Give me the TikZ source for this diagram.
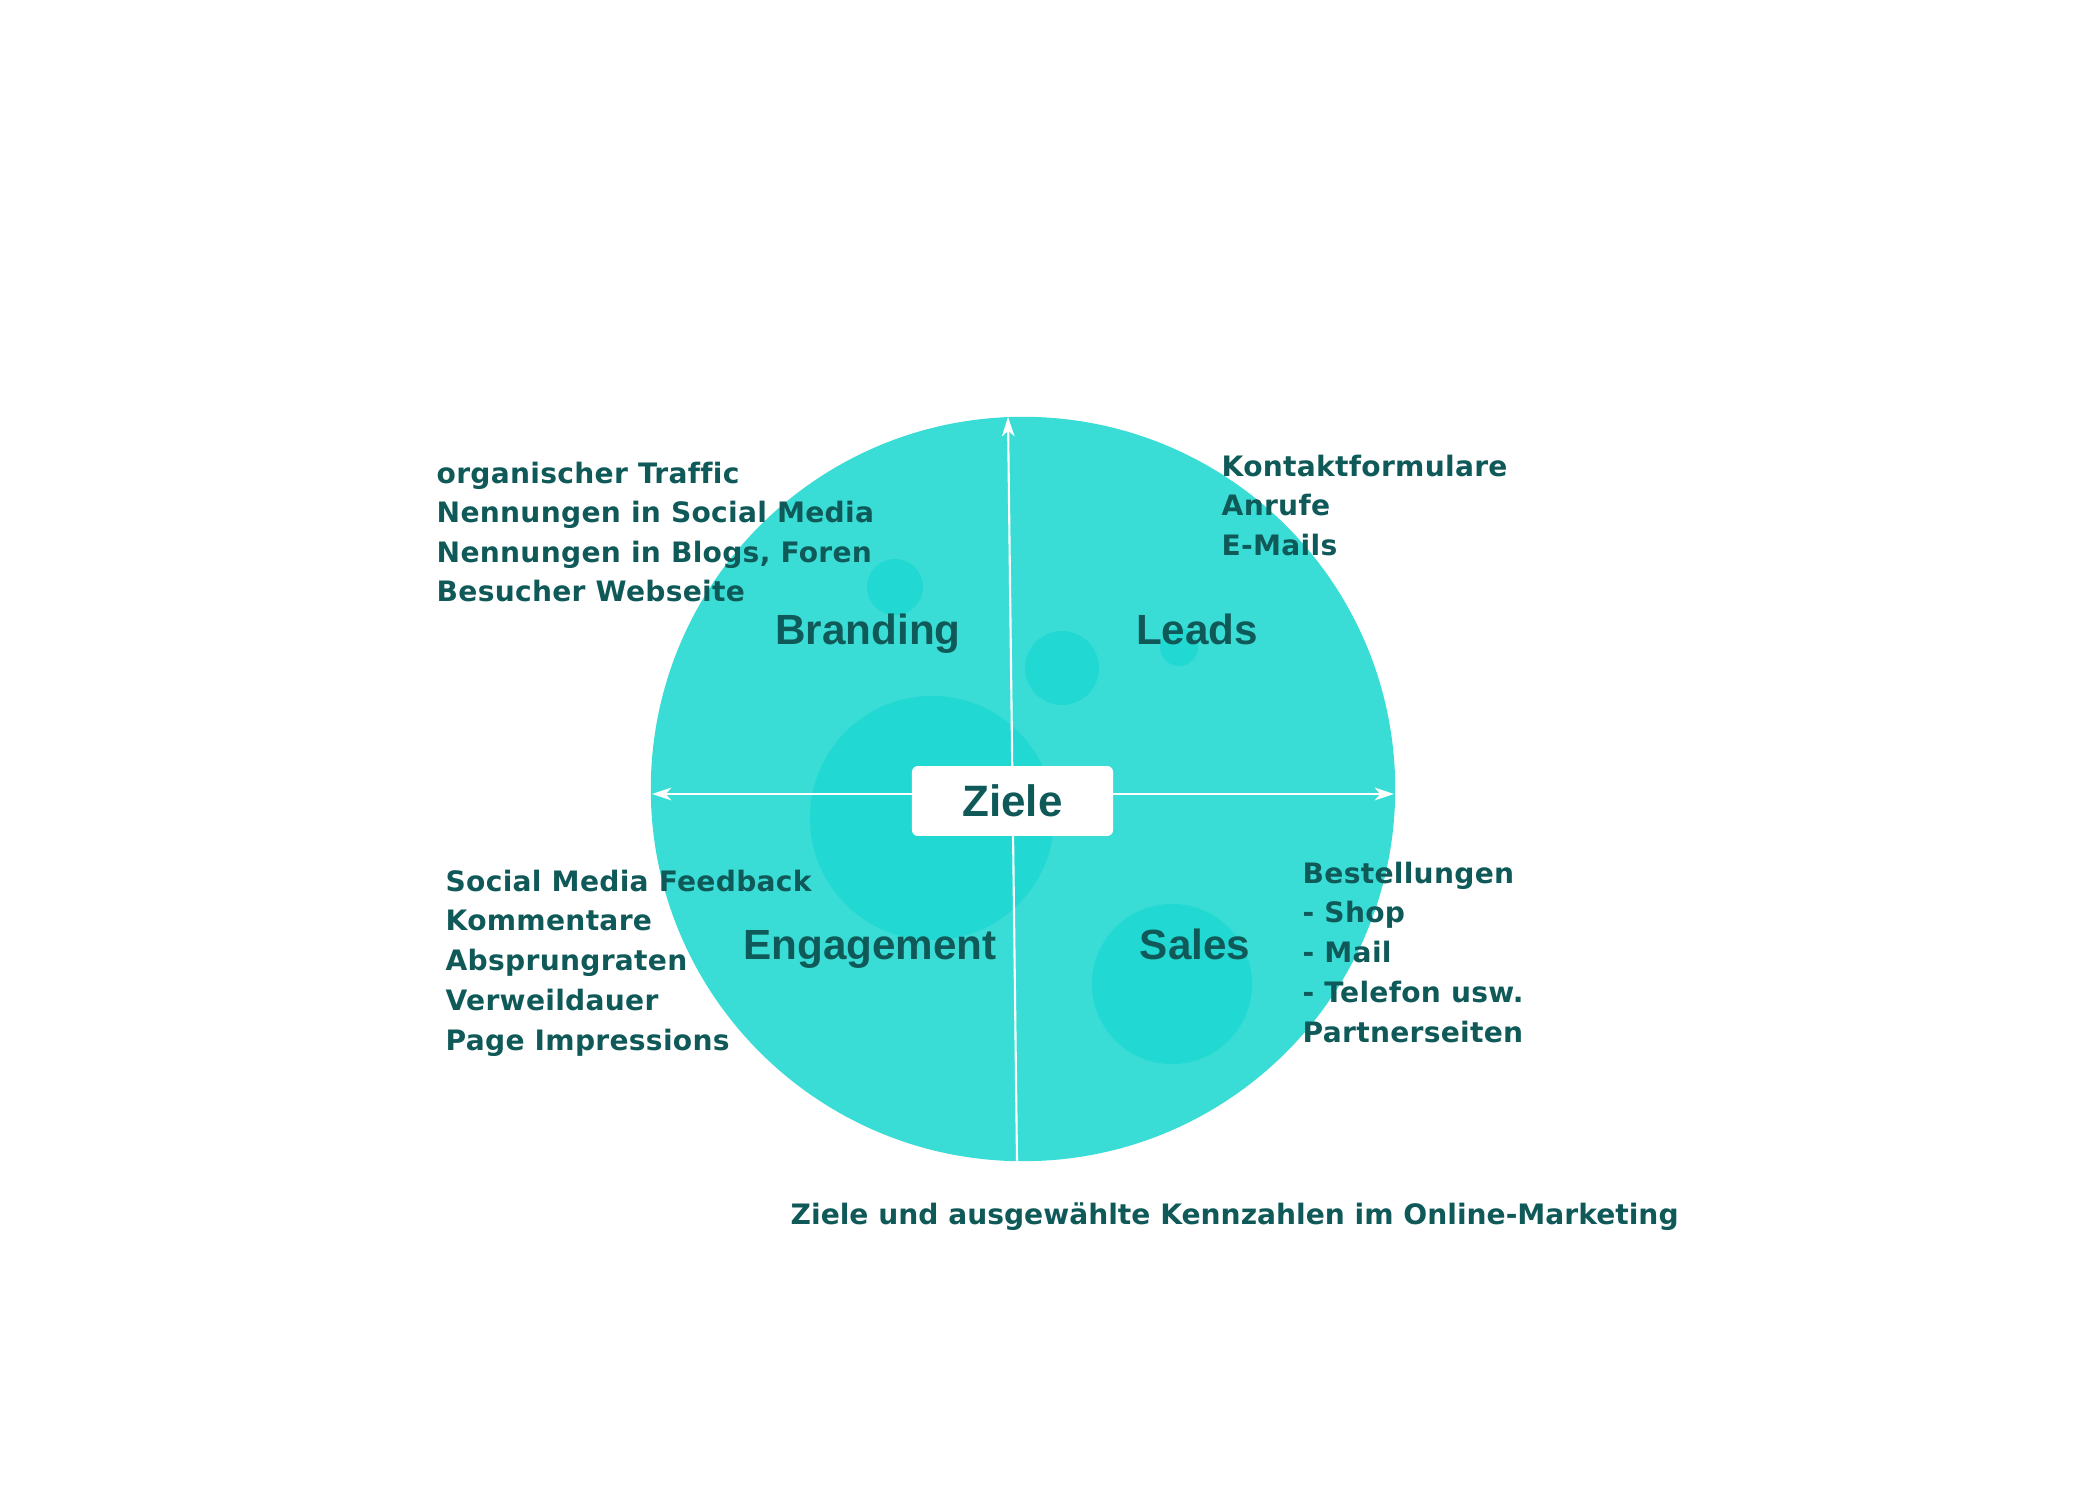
\documentclass[tikz,border=0pt]{standalone}
\usepackage{fontspec}
\setmainfont{DejaVu Sans}
\newfontfamily\listfont[LetterSpace=1,Ligatures=NoCommon]{DejaVu Sans}
\newfontfamily\labelfont{Liberation Sans}
\usetikzlibrary{arrows.meta}

\definecolor{ringfill}{RGB}{58,221,214}
\definecolor{spotfill}{RGB}{34,216,211}
\definecolor{inktext}{RGB}{16,89,89}

\tikzset{
  spot/.style={fill=spotfill},
  axis/.style={white, line width=0.6pt},
  quadrant/.style={anchor=base, inner sep=0pt, text=inktext,
    font=\labelfont\bfseries\fontsize{12}{14}\selectfont},
  metric/.style={anchor=base west, inner sep=0pt, text=inktext,
    font=\listfont\bfseries\fontsize{8}{11.4}\selectfont},
  goalbox/.style={fill=white, rounded corners=1.7pt, minimum width=57.2pt,
    minimum height=19.9pt, inner sep=0pt, text=inktext,
    font=\labelfont\bfseries\fontsize{12.5}{14}\selectfont},
}

\begin{document}
\begin{tikzpicture}[x=0.01cm, y=-0.01cm]
  \useasboundingbox (0,0) rectangle (2100,1500);

  % big disc and the lighter spots on it
  \fill[ringfill] (1023,789) circle[radius=3.72cm];
  \fill[spot] (932,818) circle[radius=1.22cm];
  \fill[spot] (1172,984) circle[radius=0.80cm];
  \fill[spot] (895,587) circle[radius=0.28cm];
  \fill[spot] (1062,668) circle[radius=0.37cm];
  \fill[spot] (1179,647) circle[radius=0.19cm];

  % axes
  \coordinate (west) at (652,794);
  \coordinate (east) at (1394,794);
  \coordinate (north) at (1008,417);
  \coordinate (south) at (1017,1161);
  \draw[axis, {Stealth[length=5.5pt,width=3.6pt,inset=1.6pt]}-{Stealth[length=5.5pt,width=3.6pt,inset=1.6pt]}] (west) -- (east);
  \draw[axis, -{Stealth[length=5.5pt,width=3.6pt,inset=1.6pt]}] (south) -- (north);

  \node[goalbox] (ziele) at (1012.5,801) {Ziele};

  % quadrants
  \node[quadrant] (branding) at (868,644) {Branding};
  \node[quadrant] (leads) at (1197,644) {Leads};
  \node[quadrant] (engagement) at (870,959) {Engagement};
  \node[quadrant] (sales) at (1195,959) {Sales};

  % key figures
  \foreach \t [count=\i] in {organischer Traffic, Nennungen in Social Media,
      {Nennungen in Blogs, Foren}, Besucher Webseite}
    \node[metric] (brand-\i) at (436,{483+39.6*(\i-1)}) {\t};
  \foreach \t [count=\i] in {Kontaktformulare, Anrufe, E-Mails}
    \node[metric] (lead-\i) at (1221,{476+39.6*(\i-1)}) {\t};
  \foreach \t [count=\i] in {Social Media Feedback, Kommentare, Absprungraten,
      Verweildauer, Page Impressions}
    \node[metric] (engage-\i) at (445,{891+39.8*(\i-1)}) {\t};
  \foreach \t [count=\i] in {Bestellungen, - Shop, - Mail, - Telefon usw.,
      Partnerseiten}
    \node[metric] (sale-\i) at (1302,{883+39.8*(\i-1)}) {\t};

  \node[anchor=base west, inner sep=0pt, text=inktext,
    font=\bfseries\fontsize{8}{10}\selectfont] (caption) at (790,1224)
    {Ziele und ausgewählte Kennzahlen im Online-Marketing};
\end{tikzpicture}
\end{document}
